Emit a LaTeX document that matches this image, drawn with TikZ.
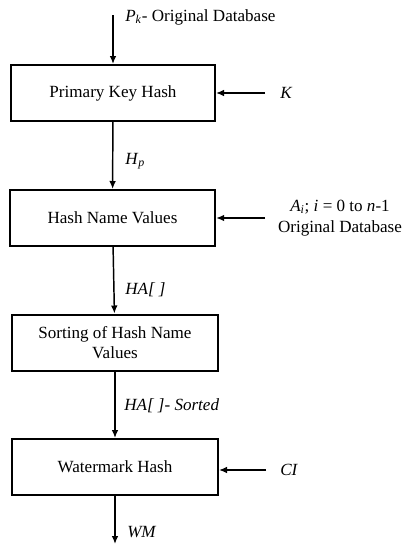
\documentclass[tikz,border=0pt]{standalone}
\usepackage{fontspec}
\setmainfont{Liberation Serif}
\usetikzlibrary{arrows.meta}
\tikzstyle{stage}=[draw,line width=1.5pt,minimum height=42pt,inner sep=0pt,align=center]
\tikzstyle{flow}=[line width=1.1pt,-{Latex[length=6pt,width=5pt]}]
\tikzstyle{lbl}=[anchor=west,inner sep=0pt,align=center]
\newcommand{\stage}{\node[stage]}
\newcommand{\lbl}{\node[lbl]}

\begin{document}
\begin{tikzpicture}[x=0.75pt,y=-0.75pt,font=\fontsize{12.8}{15.5}\selectfont]
			\useasboundingbox (0,0) rectangle (401,544);
			% % % % % % % % % % % % % % % % % % % % % % % % % % % % %
			\stage [minimum width=153pt] (pkh) at (113,93) {Primary Key Hash};
			\stage [minimum width=154pt] (hnv) at (112.5,218) {Hash Name Values};
			\stage [minimum width=154.5pt] (srt) at (115,342.5) {Sorting of Hash Name\\Values};
			\stage [minimum width=154.5pt] (wmh) at (115,467) {Watermark Hash};
			%*********************
			\coordinate (pin) at (113,15);
			\coordinate (kin) at (265,93);
			\coordinate (ain) at (265,218);
			\coordinate (cin) at (266,470);
			\coordinate (wout) at (115,544);
			%*********************
			\lbl [] (lpk) at (125,17) {\textit{P}\textsubscript{\textit{k}}- Original Database};
			\lbl [] (lk) at (280,93) {\textit{K}};
			\lbl [anchor=center] (la) at (340,218) {\textit{A}\textsubscript{\textit{i}}; \textit{i} = 0 to \textit{n}-1\\Original Database};
			\lbl [] (lhp) at (125,161) {\textit{H}\textsubscript{\textit{p}}};
			\lbl [] (lha) at (125,290) {\textit{HA[ ]}};
			\lbl [] (lhs) at (124,406) {\textit{HA[ ]- Sorted}};
			\lbl [] (lci) at (280,470) {\textit{CI}};
			\lbl [] (lwm) at (127,532) {\textit{WM}};
			% % % % % % % % % % % % % % % % %
			\path
			(pin) edge [flow] (pkh)
			(kin) edge [flow] (kin -| pkh.east)
			(pkh) edge [flow] (hnv)
			(ain) edge [flow] (ain -| hnv.east)
			(hnv) edge [flow] (srt)
			(srt) edge [flow] (wmh)
			(cin) edge [flow] (cin -| wmh.east)
			(wmh) edge [flow] (wout)
			;
\end{tikzpicture}
\end{document}
